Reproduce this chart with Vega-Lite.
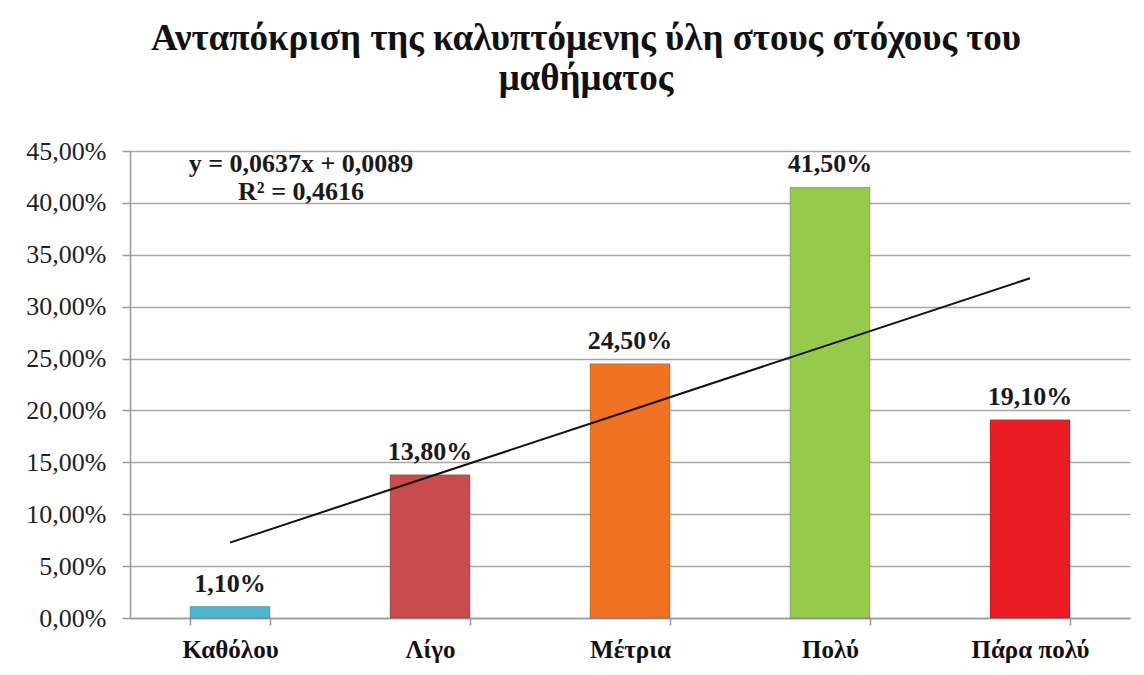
{
  "$schema": "https://vega.github.io/schema/vega-lite/v6.json",
  "autosize": "none",
  "width": 1000,
  "height": 467,
  "padding": {"left": 130, "top": 151, "right": 14, "bottom": 57},
  "background": "white",
  "title": {
    "text": ["Ανταπόκριση της καλυπτόμενης ύλη στους στόχους του", "μαθήματος"],
    "font": "Liberation Serif",
    "fontSize": 37,
    "fontWeight": "bold",
    "color": "#111111",
    "anchor": "middle",
    "frame": "group",
    "dx": -44,
    "offset": 40,
    "lineHeight": 40
  },
  "config": {
    "view": {"stroke": null},
    "locale": {"number": {"decimal": ",", "thousands": ".", "grouping": [3], "currency": ["", " €"]}}
  },
  "datasets": {
    "bars": [
      {"cat": "Καθόλου", "value": 0.011, "trend": 0.0726},
      {"cat": "Λίγο", "value": 0.138, "trend": 0.1363},
      {"cat": "Μέτρια", "value": 0.245, "trend": 0.2},
      {"cat": "Πολύ", "value": 0.415, "trend": 0.2637},
      {"cat": "Πάρα πολύ", "value": 0.191, "trend": 0.3274}
    ],
    "notes": [
      {"cat": "Καθόλου", "pos": 0.43, "text": "y = 0,0637x + 0,0089"},
      {"cat": "Καθόλου", "pos": 0.403, "text": "R² = 0,4616"}
    ]
  },
  "data": {"name": "bars"},
  "encoding": {
    "x": {
      "field": "cat",
      "type": "nominal",
      "sort": null,
      "title": null,
      "scale": {"paddingInner": 0.6, "paddingOuter": 0.3},
      "axis": {
        "labelAngle": 0,
        "labelFont": "Liberation Serif",
        "labelFontSize": 25,
        "labelFontWeight": "bold",
        "labelColor": "#111111",
        "labelPadding": 12,
        "domainColor": "#9a9a9a",
        "domainWidth": 1.5,
        "tickColor": "#9a9a9a",
        "tickWidth": 1.5,
        "tickSize": 7,
        "tickBand": "extent",
        "grid": false
      }
    }
  },
  "layer": [
    {
      "mark": {"type": "bar", "stroke": "#00000033", "strokeWidth": 1},
      "encoding": {
        "y": {
          "field": "value",
          "type": "quantitative",
          "title": null,
          "scale": {"domain": [0, 0.45], "nice": false},
          "axis": {
            "values": [0, 0.05, 0.1, 0.15, 0.2, 0.25, 0.3, 0.35, 0.4, 0.45],
            "format": ".2%",
            "labelFont": "Liberation Serif",
            "labelFontSize": 26,
            "labelColor": "#222222",
            "labelPadding": 16,
            "tickSize": 8,
            "tickColor": "#9a9a9a",
            "tickWidth": 1.5,
            "domainColor": "#9a9a9a",
            "domainWidth": 1.5,
            "grid": true,
            "gridColor": "#a6a6a6",
            "gridWidth": 1.5
          }
        },
        "color": {
          "field": "cat",
          "type": "nominal",
          "legend": null,
          "scale": {
            "domain": ["Καθόλου", "Λίγο", "Μέτρια", "Πολύ", "Πάρα πολύ"],
            "range": ["#4cb8d6", "#c94b4b", "#f07222", "#97c94b", "#ec1c24"]
          }
        }
      }
    },
    {
      "mark": {"type": "text", "font": "Liberation Serif", "fontSize": 26, "fontWeight": "bold", "color": "#1a1a1a", "baseline": "alphabetic", "dy": -15},
      "encoding": {
        "y": {"field": "value", "type": "quantitative"},
        "text": {"field": "value", "type": "quantitative", "format": ".2%"}
      }
    },
    {
      "mark": {"type": "line", "color": "#111111", "strokeWidth": 2},
      "encoding": {
        "y": {"field": "trend", "type": "quantitative"}
      }
    },
    {
      "data": {"name": "notes"},
      "mark": {"type": "text", "font": "Liberation Serif", "fontSize": 26, "fontWeight": "bold", "color": "#1a1a1a", "baseline": "alphabetic", "dx": 71},
      "encoding": {
        "y": {"field": "pos", "type": "quantitative"},
        "text": {"field": "text", "type": "nominal"}
      }
    }
  ]
}
